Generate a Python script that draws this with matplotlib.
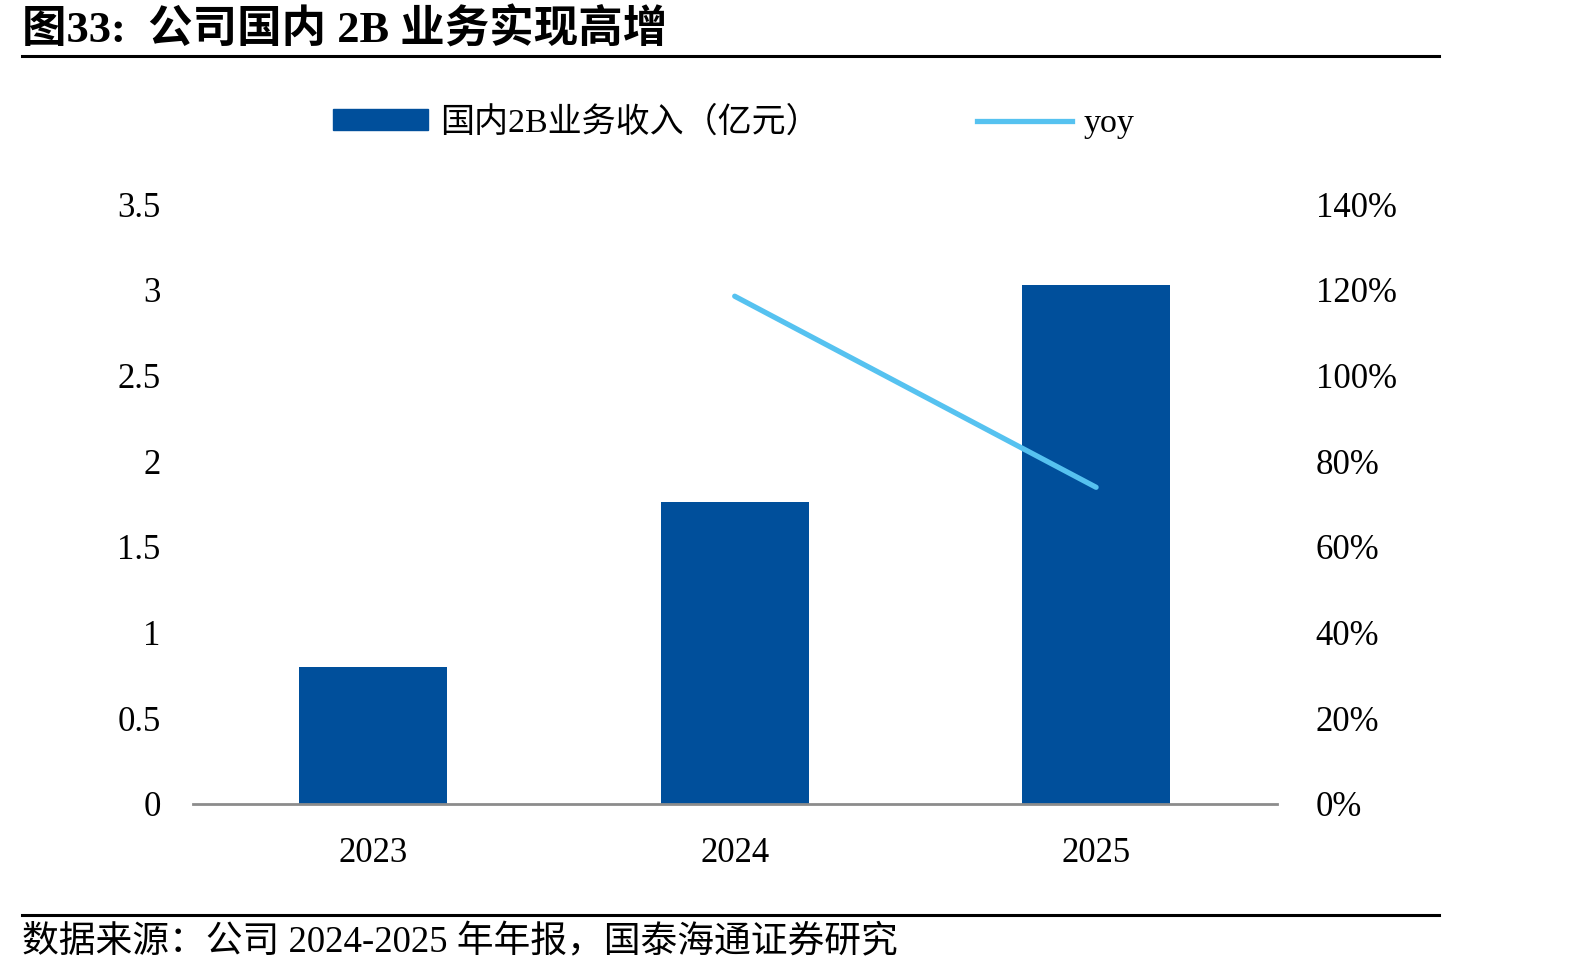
import matplotlib
matplotlib.use("Agg")
import matplotlib.pyplot as plt
from matplotlib.lines import Line2D
from matplotlib.patches import Patch

# data
years = ["2023", "2024", "2025"]
revenue = [0.80, 1.76, 3.03]      # 国内2B业务收入（亿元）
yoy_years = ["2024", "2025"]
yoy = [118.5, 73.9]               # %

FONT = ["Liberation Serif", "Noto Sans CJK SC", "DejaVu Sans"]
plt.rcParams["font.family"] = FONT

bar_color = "#004f9b"
line_color = "#56c2f0"

fig = plt.figure(figsize=(15.92, 9.72), dpi=100)
ax = fig.add_axes([0.121, 0.173, 0.681, 0.617])
ax2 = ax.twinx()

x = list(range(len(years)))
ax.bar(x, revenue, width=0.41, color=bar_color, zorder=2)
xi = [years.index(y) for y in yoy_years]
ax2.plot(xi, yoy, color=line_color, lw=3.8, solid_capstyle="round", zorder=3)

ax.set_xlim(-0.5, 2.5)
ax.set_ylim(0, 3.5)
ax.set_yticks([0, 0.5, 1, 1.5, 2, 2.5, 3, 3.5])
ax.set_yticklabels(["0", "0.5", "1", "1.5", "2", "2.5", "3", "3.5"])
ax2.set_ylim(0, 140)
ax2.set_yticks(range(0, 141, 20))
ax2.set_yticklabels([f"{v}%" for v in range(0, 141, 20)], ha="left")
ax.set_xticks(x)
ax.set_xticklabels(years)

for a in (ax, ax2):
    for s in ["top", "right", "left", "bottom"]:
        a.spines[s].set_visible(False)
    a.tick_params(length=0, labelsize=25)
ax.spines["bottom"].set_visible(True)
ax.spines["bottom"].set_color("#8c8c8c")
ax.spines["bottom"].set_linewidth(2)
ax.tick_params(axis="y", pad=23)
ax.tick_params(axis="x", pad=24)
ax2.tick_params(axis="y", pad=28)

handles = [Patch(color=bar_color), Line2D([0], [0], color=line_color, lw=3.8)]
labels = ["国内2B业务收入（亿元）", "yoy"]
fig.legend(handles, labels, loc="center", bbox_to_anchor=(0.461, 0.874), ncol=2,
           frameon=False, fontsize=24.5, handlelength=2.8, handleheight=0.55,
           columnspacing=4.6, handletextpad=0.35)

# title and source
fig.text(0.014, 0.969, "图33:  公司国内 2B 业务实现高增", fontsize=32, fontweight="bold",
         va="center", ha="left")
fig.add_artist(Line2D([0.014, 0.904], [0.942, 0.942], color="black", lw=2.2))
fig.add_artist(Line2D([0.014, 0.904], [0.059, 0.059], color="black", lw=2.2))
fig.text(0.014, 0.030, "数据来源：公司 2024-2025 年年报，国泰海通证券研究", fontsize=26.5,
         va="center", ha="left")

fig.savefig("out.png", dpi=100)
